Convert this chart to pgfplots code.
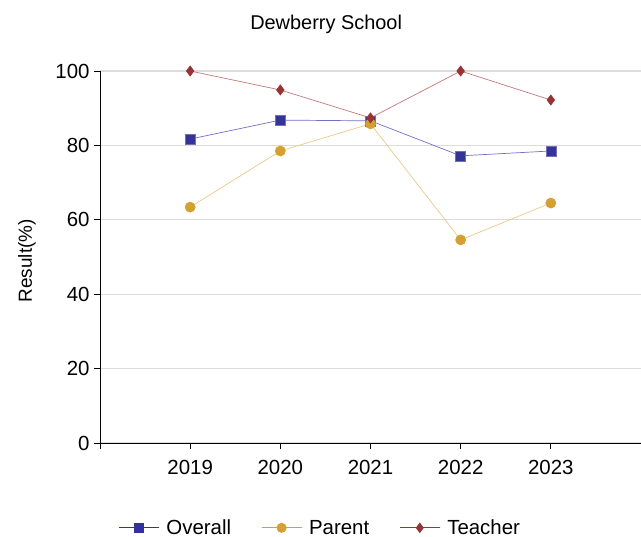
\documentclass[border=0pt]{standalone}
\usepackage{fontspec}
\setmainfont{Liberation Sans}
\usepackage{pgfplots}
\pgfplotsset{compat=1.18}
\definecolor{ovm}{HTML}{333399}
\definecolor{ovl}{HTML}{7070C8}
\definecolor{pam}{HTML}{D4A030}
\definecolor{pal}{HTML}{EAC98A}
\definecolor{tem}{HTML}{993333}
\definecolor{tel}{HTML}{C47878}
\definecolor{gridc}{HTML}{DCDCDC}
\begin{document}
\begin{tikzpicture}
\begin{axis}[
  scale only axis,
  width=541bp, height=372bp,
  xmin=2018, xmax=2024, ymin=0, ymax=100,
  axis x line=bottom, axis y line=left,
  axis line style={-, black, line width=0.8bp},
  xtick={2018,2019,2020,2021,2022,2023,2024},
  xticklabels={{},2019,2020,2021,2022,2023,{}},
  ytick={0,20,40,60,80,100},
  tick align=outside,
  major tick length=6bp,
  tick style={black, line width=0.8bp},
  ymajorgrids,
  grid style={gridc, line width=1.2bp},
  /pgf/number format/assume math mode=true,
  tick label style={font=\fontsize{20.5}{24}\selectfont},
  xticklabel style={yshift=-8bp},
  yticklabel style={xshift=-1bp},
  title={Dewberry School},
  title style={font=\fontsize{20}{24}\selectfont, at={(axis description cs:0.418,1.132)}, anchor=center, yshift=-8bp},
  ylabel={Result(\%)},
  ylabel style={font=\fontsize{19}{23}\selectfont, at={(axis description cs:-0.135,0.49)}, anchor=center, rotate=0},
  legend columns=3,
  legend style={draw=none, at={(axis description cs:0.407,-0.228)}, anchor=center,
    font=\fontsize{20.5}{24}\selectfont,
    /tikz/every odd column/.append style={column sep=5bp},
    /tikz/every even column/.append style={column sep=28bp}},
  legend image code/.code={
    \draw[#1, mark=none] (0bp,0bp) -- (40bp,0bp);
    \draw[#1, only marks] plot coordinates {(20bp,0bp)};
  },
  clip=false,
]
\addplot[forget plot, color=ovl, line width=0.7bp, mark=square*, mark size=5bp, mark options={fill=ovm, draw=ovm!70!white, line width=0.5bp}]
  coordinates {(2019,81.7) (2020,86.8) (2021,86.6) (2022,77.2) (2023,78.5)};
\addplot[forget plot, color=pal, line width=0.7bp, mark=*, mark size=5bp, mark options={fill=pam, draw=pam}]
  coordinates {(2019,63.4) (2020,78.5) (2021,85.8) (2022,54.6) (2023,64.5)};
\addplot[forget plot, color=tel, line width=0.7bp, mark=diamond*, mark size=5bp, mark options={fill=tem, draw=tem}]
  coordinates {(2019,100) (2020,94.9) (2021,87.4) (2022,100) (2023,92.2)};
\addlegendimage{color=ovm, line width=1bp, mark=square*, mark size=4.5bp, mark options={fill=ovm, draw=ovm}}
\addlegendentry{Overall}
\addlegendimage{color=pam, line width=1bp, mark=*, mark size=4.5bp, mark options={fill=pam, draw=pam}}
\addlegendentry{Parent}
\addlegendimage{color=tem, line width=1bp, mark=diamond*, mark size=4.5bp, mark options={fill=tem, draw=tem}}
\addlegendentry{Teacher}
\end{axis}
\pgfresetboundingbox
\path[use as bounding box] ([shift={(-100bp,443bp)}]current axis.south west) rectangle ([shift={(0bp,-94bp)}]current axis.south east);
\end{tikzpicture}
\end{document}
